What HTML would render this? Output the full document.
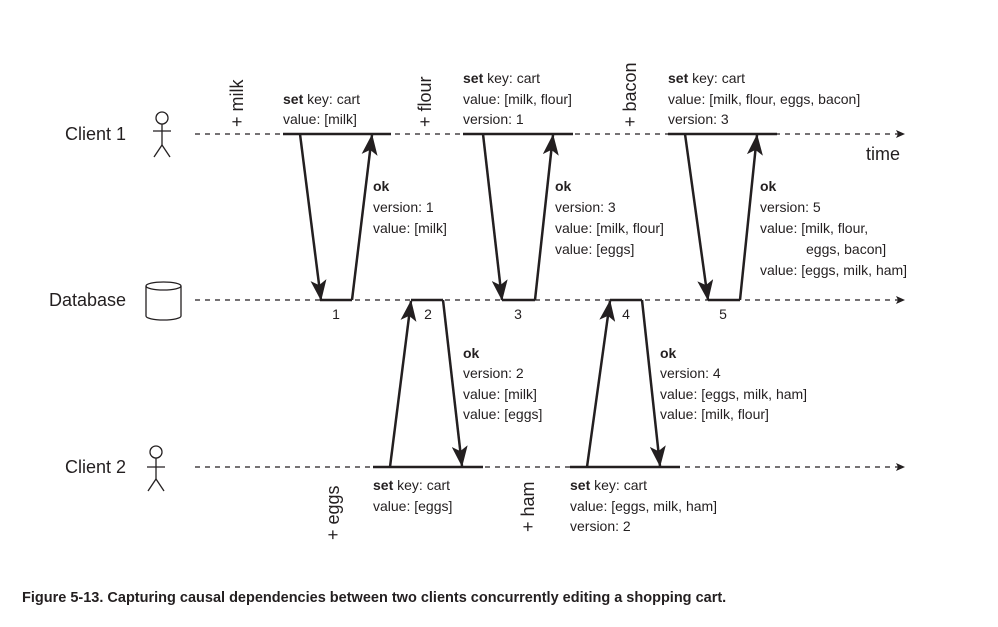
<!DOCTYPE html>
<html><head><meta charset="utf-8"><style>
html,body{margin:0;padding:0;background:#fff;}
svg{display:block;}
text{font-family:"Liberation Sans",sans-serif;fill:#231f20;}
.t{font-size:14px;}
.l{font-size:18px;}
</style></head><body>
<svg width="998" height="627" viewBox="0 0 998 627" xmlns="http://www.w3.org/2000/svg">
<defs>
<marker id="a" markerWidth="22" markerHeight="16" refX="20" refY="8" orient="auto" markerUnits="userSpaceOnUse">
<path d="M0,0 L21,8 L0,16 L5,8 Z" fill="#231f20"/></marker>
<marker id="s" markerWidth="10" markerHeight="10" refX="9" refY="4" orient="auto" markerUnits="userSpaceOnUse">
<path d="M0,0 L9,4 L0,8 L2,4 Z" fill="#231f20"/></marker>
</defs>
<g stroke="#231f20" fill="none">
<line x1="195" y1="134" x2="905" y2="134" stroke-width="1.2" stroke-dasharray="5,5" marker-end="url(#s)"/>
<line x1="195" y1="300" x2="905" y2="300" stroke-width="1.2" stroke-dasharray="5,5" marker-end="url(#s)"/>
<line x1="195" y1="467" x2="905" y2="467" stroke-width="1.2" stroke-dasharray="5,5" marker-end="url(#s)"/>
<g stroke-width="2.5">
<line x1="283" y1="134" x2="391" y2="134"/>
<line x1="463" y1="134" x2="573" y2="134"/>
<line x1="668" y1="134" x2="777" y2="134"/>
<line x1="320" y1="300" x2="352" y2="300"/>
<line x1="411" y1="300" x2="443" y2="300"/>
<line x1="502" y1="300" x2="535" y2="300"/>
<line x1="610" y1="300" x2="642" y2="300"/>
<line x1="708" y1="300" x2="740" y2="300"/>
<line x1="373" y1="467" x2="483" y2="467"/>
<line x1="570" y1="467" x2="680" y2="467"/>
<line x1="300" y1="134" x2="321" y2="300" marker-end="url(#a)"/>
<line x1="352" y1="300" x2="372" y2="135" marker-end="url(#a)"/>
<line x1="483" y1="134" x2="502" y2="300" marker-end="url(#a)"/>
<line x1="535" y1="300" x2="553" y2="135" marker-end="url(#a)"/>
<line x1="685" y1="134" x2="708" y2="300" marker-end="url(#a)"/>
<line x1="740" y1="300" x2="757" y2="135" marker-end="url(#a)"/>
<line x1="390" y1="467" x2="411" y2="301" marker-end="url(#a)"/>
<line x1="443" y1="300" x2="462" y2="466" marker-end="url(#a)"/>
<line x1="587" y1="467" x2="610" y2="301" marker-end="url(#a)"/>
<line x1="642" y1="300" x2="660" y2="466" marker-end="url(#a)"/>
</g>
<g stroke-width="1.3">
<circle cx="162" cy="118" r="6"/>
<line x1="162" y1="124" x2="162" y2="145"/><line x1="153" y1="131" x2="171" y2="131"/>
<line x1="162" y1="145" x2="154" y2="157"/><line x1="162" y1="145" x2="170" y2="157"/>
<circle cx="156" cy="452" r="6"/>
<line x1="156" y1="458" x2="156" y2="479"/><line x1="147" y1="467" x2="165" y2="467"/>
<line x1="156" y1="479" x2="148" y2="491"/><line x1="156" y1="479" x2="164" y2="491"/>
<ellipse cx="163.5" cy="286" rx="17.5" ry="4"/>
<path d="M146,286 L146,316 A17.5,4 0 0 0 181,316 L181,286"/>
</g>
</g>
<text class="l" x="65" y="140">Client 1</text>
<text class="l" x="49" y="306">Database</text>
<text class="l" x="65" y="473">Client 2</text>
<text class="l" x="866" y="160">time</text>
<g class="t">
<text x="336" y="319" text-anchor="middle">1</text>
<text x="428" y="319" text-anchor="middle">2</text>
<text x="518" y="319" text-anchor="middle">3</text>
<text x="626" y="319" text-anchor="middle">4</text>
<text x="723" y="319" text-anchor="middle">5</text>
</g>
<g class="l">
<text transform="translate(243,127) rotate(-90)">+ milk</text>
<text transform="translate(431,127) rotate(-90)">+ flour</text>
<text transform="translate(636,127) rotate(-90)">+ bacon</text>
<text transform="translate(339,540) rotate(-90)">+ eggs</text>
<text transform="translate(534,532) rotate(-90)">+ ham</text>
</g>
<g class="t">
<text x="283" y="104"><tspan font-weight="bold">set</tspan> key: cart</text>
<text x="283" y="124">value: [milk]</text>
<text x="463" y="83"><tspan font-weight="bold">set</tspan> key: cart</text>
<text x="463" y="104">value: [milk, flour]</text>
<text x="463" y="124">version: 1</text>
<text x="668" y="83"><tspan font-weight="bold">set</tspan> key: cart</text>
<text x="668" y="104">value: [milk, flour, eggs, bacon]</text>
<text x="668" y="124">version: 3</text>
<text x="373" y="191" font-weight="bold">ok</text>
<text x="373" y="212">version: 1</text>
<text x="373" y="233">value: [milk]</text>
<text x="555" y="191" font-weight="bold">ok</text>
<text x="555" y="212">version: 3</text>
<text x="555" y="233">value: [milk, flour]</text>
<text x="555" y="254">value: [eggs]</text>
<text x="760" y="191" font-weight="bold">ok</text>
<text x="760" y="212">version: 5</text>
<text x="760" y="233">value: [milk, flour,</text>
<text x="806" y="254">eggs, bacon]</text>
<text x="760" y="275">value: [eggs, milk, ham]</text>
<text x="463" y="358" font-weight="bold">ok</text>
<text x="463" y="378">version: 2</text>
<text x="463" y="399">value: [milk]</text>
<text x="463" y="419">value: [eggs]</text>
<text x="660" y="358" font-weight="bold">ok</text>
<text x="660" y="378">version: 4</text>
<text x="660" y="399">value: [eggs, milk, ham]</text>
<text x="660" y="419">value: [milk, flour]</text>
<text x="373" y="490"><tspan font-weight="bold">set</tspan> key: cart</text>
<text x="373" y="511">value: [eggs]</text>
<text x="570" y="490"><tspan font-weight="bold">set</tspan> key: cart</text>
<text x="570" y="511">value: [eggs, milk, ham]</text>
<text x="570" y="531">version: 2</text>
</g>
<text x="22" y="602" font-size="14.5" font-weight="bold">Figure 5-13. Capturing causal dependencies between two clients concurrently editing a shopping cart.</text>
</svg>
</body></html>
